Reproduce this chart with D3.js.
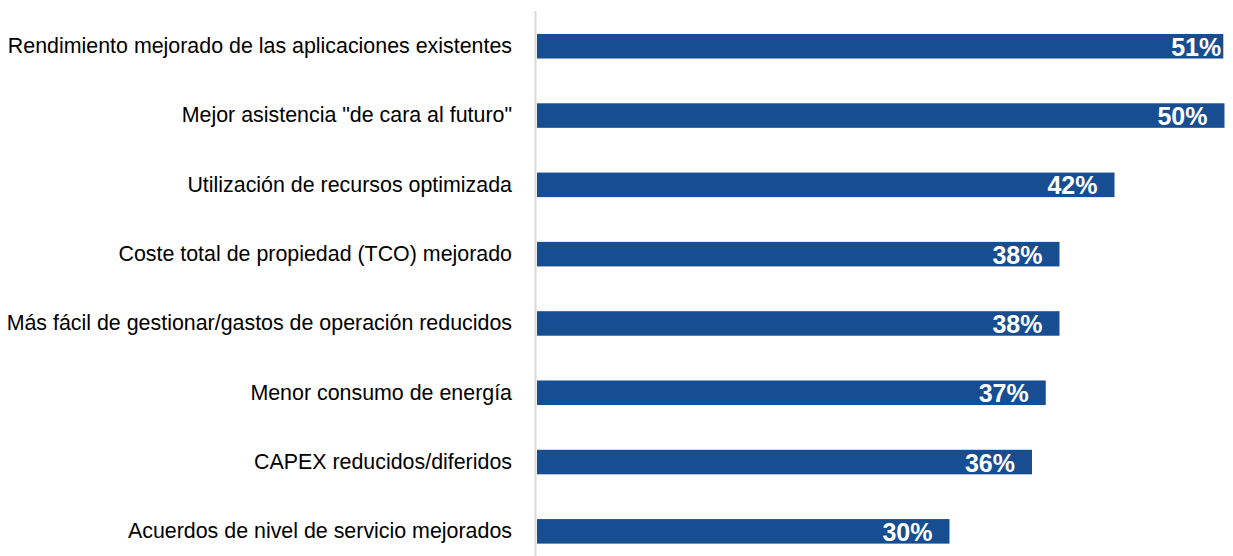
<!DOCTYPE html>
<html>
<head>
<meta charset="utf-8">
<script src="https://cdn.jsdelivr.net/npm/d3@7"></script>
<style>
  body { margin: 0; background: #fff; }
  svg { display: block; }
</style>
</head>
<body>
<script>
// datos
var categories = [
    "Rendimiento mejorado de las aplicaciones existentes",
    "Mejor asistencia \"de cara al futuro\"",
    "Utilización de recursos optimizada",
    "Coste total de propiedad (TCO) mejorado",
    "Más fácil de gestionar/gastos de operación reducidos",
    "Menor consumo de energía",
    "CAPEX reducidos/diferidos",
    "Acuerdos de nivel de servicio mejorados"
];
var values = [51, 50, 42, 38, 38, 37, 36, 30];

var width = 1233, height = 556;
var plotLeft = 537, plotRight = 1223.3;

var svg = d3.select("body")
    .append("svg")
    .attr("width", width)
    .attr("height", height);

// escalas
var xScale = d3.scaleLinear()
    .domain([0, 52])
    .range([plotLeft, plotLeft + 52 * 13.75]);
var yScale = d3.scaleBand()
    .domain(categories)
    .range([11.6, 566])
    .paddingInner(0.646)
    .paddingOuter(0.323);

svg.append("defs").append("clipPath")
    .attr("id", "plot")
    .append("rect")
    .attr("x", plotLeft)
    .attr("y", 0)
    .attr("width", plotRight - plotLeft)
    .attr("height", height);

// eje vertical
svg.append("line")
    .attr("x1", 535.5).attr("x2", 535.5)
    .attr("y1", 11).attr("y2", height)
    .attr("stroke", "#d9d9d9")
    .attr("stroke-width", 2);

// barras (la primera queda recortada en el borde del área)
svg.append("g")
    .selectAll("rect")
    .data(values)
    .enter()
    .append("rect")
    .attr("clip-path", function (d, i) { return i === 0 ? "url(#plot)" : null; })
    .attr("x", xScale(0))
    .attr("y", function (d, i) { return yScale(categories[i]); })
    .attr("width", function (d) { return xScale(d) - xScale(0); })
    .attr("height", yScale.bandwidth())
    .attr("fill", "#164e91");

// etiquetas de categoría
svg.selectAll("text.cat")
    .data(categories)
    .enter()
    .append("text")
    .attr("class", "cat")
    .text(function (d) { return d; })
    .attr("x", 512)
    .attr("y", function (d) { return yScale(d) + yScale.bandwidth() / 2 + 6.9; })
    .attr("text-anchor", "end")
    .attr("font-family", "Liberation Sans, Arial, sans-serif")
    .attr("font-size", "21.4px")
    .attr("fill", "#000");

// etiquetas de valores
svg.selectAll("text.val")
    .data(values)
    .enter()
    .append("text")
    .attr("class", "val")
    .text(function (d) { return d + "%"; })
    .attr("x", function (d) { return xScale(d) - 17; })
    .attr("y", function (d, i) { return yScale(categories[i]) + yScale.bandwidth() / 2 + 9.5; })
    .attr("text-anchor", "end")
    .attr("font-family", "Liberation Sans, Arial, sans-serif")
    .attr("font-weight", "bold")
    .attr("font-size", "25px")
    .attr("fill", "#fff");
</script>
</body>
</html>
